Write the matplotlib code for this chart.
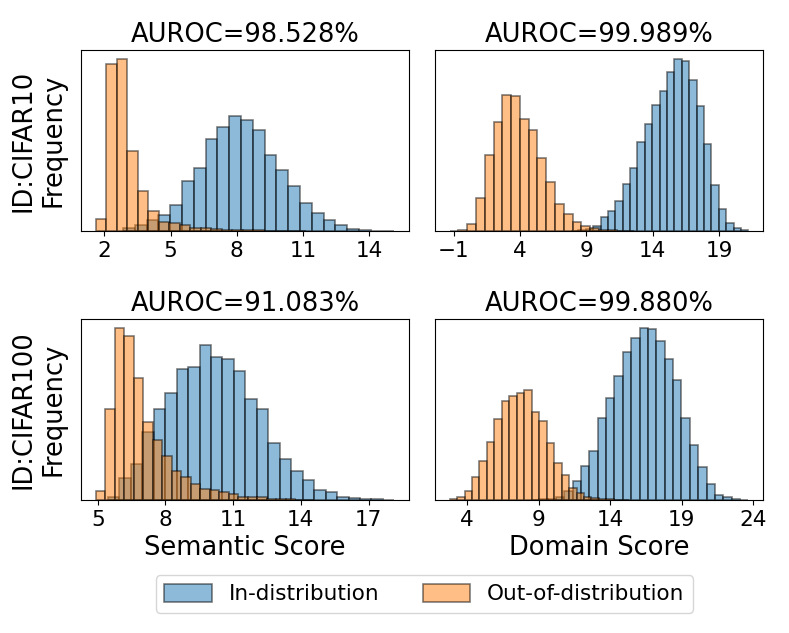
import numpy as np
import matplotlib
matplotlib.use("Agg")
import matplotlib.pyplot as plt

# bar heights (arbitrary frequency units)
# row 1: ID = CIFAR10
sem10_id_start, sem10_id_width = 2.848, 0.535
sem10_id = [8, 18, 32, 48, 78, 148, 188, 276, 311, 343, 333, 301, 228, 181,
            133, 85, 53, 32, 17, 5, 2, 1, 1]
sem10_ood_start, sem10_ood_width = 1.606, 0.477
sem10_ood = [35, 500, 516, 240, 120, 61, 27, 23, 17, 10, 8, 6, 4, 3, 2, 2,
             1, 1, 1, 1]

dom10_id_start, dom10_id_width = 7.84, 0.557
dom10_id = [1, 3, 7, 15, 41, 61, 89, 139, 189, 265, 320, 377, 418, 476, 516,
            510, 451, 373, 261, 138, 66, 25, 10, 3]
dom10_ood_start, dom10_ood_width = -1.306, 0.6625
dom10_ood = [1, 4, 22, 100, 226, 327, 408, 405, 335, 302, 217, 147, 81, 52,
             26, 15, 8, 4, 2, 1, 1]

# row 2: ID = CIFAR100
sem100_id_start, sem100_id_width = 5.446, 0.508
sem100_id = [10, 65, 108, 202, 272, 320, 393, 397, 465, 428, 423, 387, 303,
             273, 172, 124, 88, 59, 31, 24, 9, 6, 4, 2, 1]
sem100_ood_start, sem100_ood_width = 4.908, 0.421
sem100_ood = [27, 273, 515, 490, 364, 234, 179, 133, 86, 69, 47, 33, 31, 25,
              17, 10, 9, 8, 3, 2, 2, 1, 1]

dom100_id_start, dom100_id_width = 8.46, 0.5844
dom100_id = [1, 2, 4, 10, 28, 57, 103, 147, 244, 304, 372, 444, 485, 515, 512,
             477, 422, 360, 245, 165, 99, 47, 14, 9, 2, 1]
dom100_ood_start, dom100_ood_width = 2.786, 0.5215
dom100_ood = [3, 10, 26, 68, 116, 175, 242, 295, 312, 321, 329, 262, 235, 170,
              110, 76, 37, 20, 10, 5, 3, 2, 1, 1]

aurocs = ["98.528", "99.989", "91.083", "99.880"]
row_names = ["ID:CIFAR10", "ID:CIFAR100"]
xlabels = ["Semantic Score", "Domain Score"]
xticks = [[2, 5, 8, 11, 14], [-1, 4, 9, 14, 19],
          [5, 8, 11, 14, 17], [4, 9, 14, 19, 24]]

panels = [
    ((sem10_id_start, sem10_id_width, sem10_id), (sem10_ood_start, sem10_ood_width, sem10_ood)),
    ((dom10_id_start, dom10_id_width, dom10_id), (dom10_ood_start, dom10_ood_width, dom10_ood)),
    ((sem100_id_start, sem100_id_width, sem100_id), (sem100_ood_start, sem100_ood_width, sem100_ood)),
    ((dom100_id_start, dom100_id_width, dom100_id), (dom100_ood_start, dom100_ood_width, dom100_ood)),
]


def draw_hist(ax, start, width, heights, color, label):
    heights = np.asarray(heights, dtype=float)
    edges = start + width * np.arange(len(heights) + 1)
    ax.hist(edges[:-1], bins=edges, weights=heights, alpha=0.5,
            color=color, edgecolor="black", linewidth=1.2, label=label)


fig, axes = plt.subplots(2, 2, figsize=(7.89, 6.33), dpi=100)
fig.subplots_adjust(left=0.1023, right=0.9674, top=0.921, bottom=0.21,
                    wspace=0.077, hspace=0.488)

for k, ax in enumerate(axes.flat):
    (a0, aw, ah), (b0, bw, bh) = panels[k]
    draw_hist(ax, a0, aw, ah, "C0", "In-distribution")
    draw_hist(ax, b0, bw, bh, "C1", "Out-of-distribution")
    ax.set_title("AUROC=" + aurocs[k] + "%", fontsize=18.5)
    ax.set_yticks([])
    ax.set_xticks(xticks[k])
    ax.tick_params(axis="x", labelsize=15.5)
    row, col = divmod(k, 2)
    if col == 0:
        ax.set_ylabel(row_names[row] + "\nFrequency", fontsize=18.5,
                      labelpad=10)
    if row == 1:
        ax.set_xlabel(xlabels[col], fontsize=18.5)

handles, labels = axes[0, 0].get_legend_handles_labels()
fig.legend(handles, labels, loc="center", ncol=2, fontsize=15.5,
           handlelength=2.2, handleheight=0.9,
           bbox_to_anchor=(0.538, 0.0616))

fig.savefig("out.png", dpi=100)
